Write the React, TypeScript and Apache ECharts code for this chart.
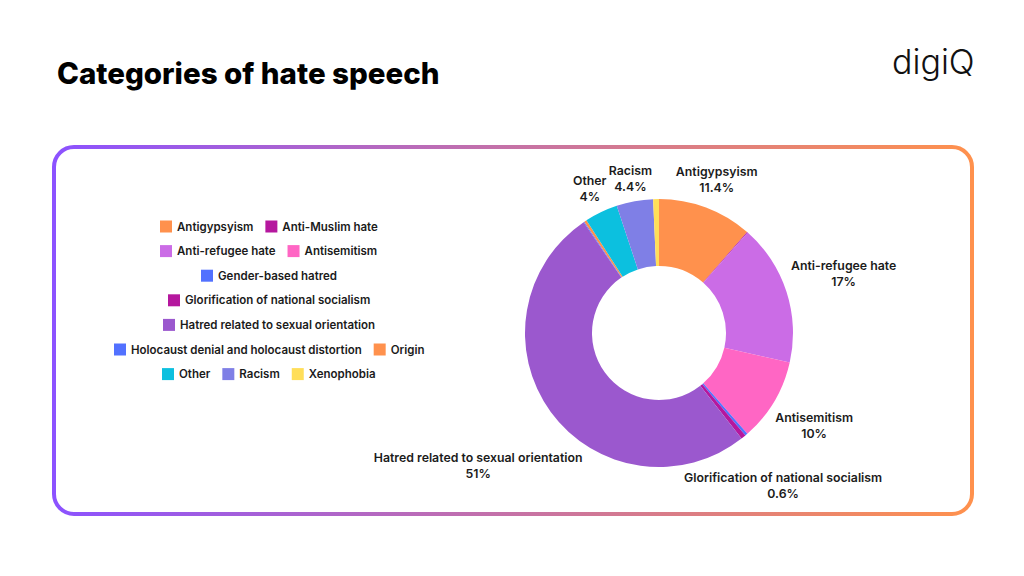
import React, { useEffect, useRef } from 'react';
import * as echarts from 'echarts';

const categories = [
  'Antigypsyism',
  'Anti-Muslim hate',
  'Anti-refugee hate',
  'Antisemitism',
  'Gender-based hatred',
  'Glorification of national socialism',
  'Hatred related to sexual orientation',
  'Holocaust denial and holocaust distortion',
  'Origin',
  'Other',
  'Racism',
  'Xenophobia',
];
const values = [11.4, 0.1, 17, 10, 0.3, 0.6, 51, 0.1, 0.3, 4, 4.4, 0.7];
const colors = [
  '#FF914D', '#B5179E', '#CB6CE6', '#FF66C4', '#5271FF', '#B5179E',
  '#9B58CE', '#5271FF', '#FF914D', '#0CC0DF', '#7F7FE6', '#FFDE59',
];
const labelled = [
  'Antigypsyism', 'Anti-refugee hate', 'Antisemitism',
  'Glorification of national socialism', 'Hatred related to sexual orientation',
  'Other', 'Racism',
];
const legendRows = [
  ['Antigypsyism', 'Anti-Muslim hate'],
  ['Anti-refugee hate', 'Antisemitism'],
  ['Gender-based hatred'],
  ['Glorification of national socialism'],
  ['Hatred related to sexual orientation'],
  ['Holocaust denial and holocaust distortion', 'Origin'],
  ['Other', 'Racism', 'Xenophobia'],
];

const FONT = 'Inter';
const CX = 659;
const CY = 333;
const R_OUT = 134;
const R_IN = 67;
const LABEL_OFF = 5;
const LEG_FS = 11.5;
const LEG_ICON = 12;
const LEG_GAP = 12;
const LEG_CENTER_X = 269;

function measure(text: string, size: number, weight: number) {
  const c = document.createElement('canvas').getContext('2d');
  if (!c) return text.length * size * 0.6;
  c.font = `${weight} ${size}px ${FONT}`;
  return c.measureText(text).width;
}

export default function App() {
  const ref = useRef<HTMLDivElement>(null);
  useEffect(() => {
    document.body.style.margin = '0';
    if (!ref.current) return;
    const chart = echarts.init(ref.current, undefined, { renderer: 'svg' });

    const legends = legendRows.map((row, i) => {
      const w =
        row.reduce((s, n) => s + LEG_ICON + 5 + measure(n, LEG_FS, 600), 0) +
        LEG_GAP * (row.length - 1);
      return {
        data: row,
        orient: 'horizontal',
        left: Math.round(LEG_CENTER_X - w / 2),
        top: 220.5 + i * 24.6,
        padding: 0,
        itemWidth: LEG_ICON,
        itemHeight: LEG_ICON,
        itemGap: LEG_GAP,
        icon: 'rect',
        textStyle: { fontFamily: FONT, fontSize: LEG_FS, fontWeight: 600, color: '#1b1b1b' },
      };
    });

    const data = categories.map((name, i) => ({
      name,
      value: values[i],
      itemStyle: { color: colors[i] },
      label: { show: labelled.includes(name) },
      labelLine: { show: labelled.includes(name) },
    }));

    chart.setOption({
      animation: false,
      backgroundColor: '#ffffff',
      title: {
        text: 'Categories of hate speech',
        left: 57,
        top: 58,
        padding: 0,
        textStyle: { fontFamily: FONT, fontSize: 29.5, fontWeight: 800, color: '#000000' },
      },
      legend: legends,
      graphic: [
        {
          type: 'rect',
          shape: { x: 54, y: 147, width: 918, height: 367, r: 20 },
          style: {
            fill: 'none',
            lineWidth: 4,
            stroke: new echarts.graphic.LinearGradient(0, 0, 1, 0, [
              { offset: 0, color: '#8C52FF' },
              { offset: 1, color: '#FF914D' },
            ]),
          },
          silent: true,
        },
        {
          type: 'text',
          left: 892,
          top: 44,
          style: {
            text: 'digiQ',
            fontFamily: FONT,
            fontSize: 34,
            fontWeight: 300,
            fill: '#111111',
          },
        },
      ],
      series: [
        {
          type: 'pie',
          center: [CX, CY],
          radius: [R_IN, R_OUT],
          startAngle: 90,
          clockwise: true,
          avoidLabelOverlap: false,
          data,
          label: {
            position: 'outside',
            formatter: '{b}\n{c}%',
            fontFamily: FONT,
            fontSize: 12.3,
            fontWeight: 600,
            lineHeight: 16,
            color: '#1b1b1b',
          },
          labelLine: { length: 10, length2: 0, lineStyle: { opacity: 0 } },
          labelLayout: (params: any) => {
            const pts = params.labelLinePoints;
            if (!pts || !pts.length) return {};
            let ux = pts[0][0] - CX;
            let uy = pts[0][1] - CY;
            const n = Math.hypot(ux, uy) || 1;
            ux /= n;
            uy /= n;
            const hw = params.labelRect.width / 2;
            const hh = params.labelRect.height / 2;
            let lo = 0;
            let hi = 1000;
            for (let k = 0; k < 60; k++) {
              const mid = (lo + hi) / 2;
              const dx = Math.max(Math.abs(mid * ux) - hw, 0);
              const dy = Math.max(Math.abs(mid * uy) - hh, 0);
              if (Math.hypot(dx, dy) < R_OUT + LABEL_OFF) lo = mid;
              else hi = mid;
            }
            return {
              x: CX + lo * ux,
              y: CY + lo * uy,
              align: 'center',
              verticalAlign: 'middle',
            };
          },
          emphasis: { scale: false },
        },
      ],
    });
    return () => chart.dispose();
  }, []);
  return (
    <div
      ref={ref}
      style={{ position: 'absolute', left: 0, top: 0, width: 1024, height: 576 }}
    />
  );
}
